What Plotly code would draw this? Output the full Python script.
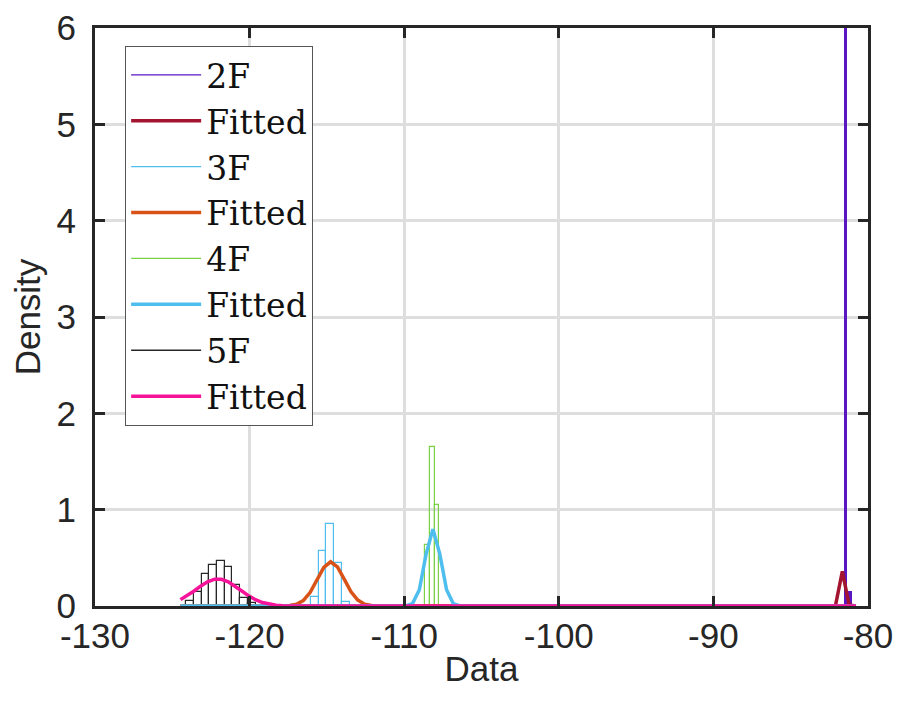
import plotly.graph_objects as go

# ---------------- data ----------------
series_names = ["2F", "3F", "4F", "5F"]

# histogram bins (left edges, bin widths, densities)
h2_left = [-81.50, -81.20]
h2_width = [0.05, 0.08]
h2_dens = [9.0, 0.15]

h3_left = [-116.03, -115.53, -115.03, -114.53, -114.03]
h3_width = [0.5, 0.5, 0.5, 0.5, 0.5]
h3_dens = [0.097, 0.57, 0.85, 0.45, 0.04]

h4_left = [-108.65, -108.34, -108.03]
h4_width = [0.31, 0.31, 0.31]
h4_dens = [0.633, 1.654, 1.049]

h5_left = [-124.11, -123.61, -123.11, -122.61, -122.11, -121.61, -121.11, -120.61, -120.11]
h5_width = [0.5, 0.5, 0.5, 0.5, 0.5, 0.5, 0.5, 0.5, 0.5]
h5_dens = [0.055, 0.15, 0.33, 0.43, 0.465, 0.41, 0.22, 0.08, 0.03]

# fitted curves
f2_x = [-124.47, -82.11, -81.66, -81.22, -80.78]
f2_y = [0, 0, 0.36, 0.01, 0]

f3_x = [-124.47, -118.29, -117.85, -117.41, -116.97, -116.53, -116.09, -115.64, -115.20,
        -114.76, -114.32, -113.88, -113.44, -113.00, -112.56, -112.11, -111.67, -111.23, -80.78]
f3_y = [0, 0, 0.0008, 0.0043, 0.0177, 0.0565, 0.140, 0.272, 0.401,
        0.459, 0.406, 0.278, 0.148, 0.061, 0.019, 0.0046, 0.0008, 0, 0]

f4_x = [-124.47, -110.35, -109.91, -109.47, -109.02, -108.58, -108.14, -107.70, -107.26,
        -106.82, -106.38, -105.94, -80.78]
f4_y = [0, 0, 0.0015, 0.023, 0.169, 0.542, 0.798, 0.542, 0.169, 0.023, 0.0015, 0, 0]

f5_x = [-124.47, -124.03, -123.59, -123.15, -122.72, -122.26, -121.82, -121.38, -120.94,
        -120.50, -120.06, -119.62, -119.17, -118.73, -118.29, -117.85, -117.41, -116.97,
        -116.53, -116.09, -80.78]
f5_y = [0.066, 0.106, 0.156, 0.208, 0.251, 0.278, 0.277, 0.251, 0.207,
        0.155, 0.105, 0.065, 0.036, 0.018, 0.0084, 0.0035, 0.0013, 0.0004,
        0.0001, 0, 0]

x_tickvals = [-130, -120, -110, -100, -90, -80]
x_ticktext = ["-130", "-120", "-110", "-100", "-90", "-80"]
y_tickvals = [0, 1, 2, 3, 4, 5, 6]
y_ticktext = ["0", "1", "2", "3", "4", "5", "6"]

# ---------------- styles ----------------
hist_colors = ["#5B16C4", "#4DBEEE", "#7AD147", "#262626"]
hist_lw = [2.0, 1.2, 1.2, 1.2]
fit_colors = ["#A2142F", "#D95319", "#4DBEEE", "#F5139A"]

hists = [(h2_left, h2_width, h2_dens), (h3_left, h3_width, h3_dens),
         (h4_left, h4_width, h4_dens), (h5_left, h5_width, h5_dens)]
fits = [(f2_x, f2_y), (f3_x, f3_y), (f4_x, f4_y), (f5_x, f5_y)]

fig = go.Figure()

for i, name in enumerate(series_names):
    left, width, dens = hists[i]
    fig.add_trace(go.Bar(
        x=left, y=dens, width=width, offset=0,
        marker=dict(color="rgba(0,0,0,0)", line=dict(color=hist_colors[i], width=hist_lw[i])),
        showlegend=False, hoverinfo="skip"))
    # legend entry for histogram (thin line)
    fig.add_trace(go.Scatter(
        x=[None], y=[None], mode="lines", name=name,
        line=dict(color=hist_colors[i], width=1.3), showlegend=True))
    fx, fy = fits[i]
    fig.add_trace(go.Scatter(
        x=fx, y=fy, mode="lines", name="Fitted",
        line=dict(color=fit_colors[i], width=3.5), showlegend=True))

axis_font = dict(family="Liberation Sans, Arial, sans-serif", size=35, color="#262626")

# page body has an 8px margin; figure is sized/offset to compensate
fig.update_layout(
    width=896, height=705,
    margin=dict(l=87, r=36, t=20, b=107, autoexpand=False),
    paper_bgcolor="white", plot_bgcolor="white",
    barmode="overlay", bargap=0,
    legend=dict(
        x=0.039, y=0.969, xanchor="left", yanchor="top",
        bgcolor="white", bordercolor="#555555", borderwidth=1,
        font=dict(family="DejaVu Serif, serif", size=33, color="#111111"),
        itemwidth=70, tracegroupgap=0,
    ),
    xaxis=dict(
        range=[-130, -80], tickvals=x_tickvals, ticktext=x_ticktext,
        showline=True, linewidth=3, linecolor="#262626", mirror="ticks",
        ticks="inside", ticklen=10, tickwidth=2.5, tickcolor="#262626",
        showgrid=True, gridcolor="#DEDEDE", gridwidth=3, zeroline=False,
        tickfont=axis_font, ticklabelstandoff=-3, automargin=False,
        ticklabeloverflow="allow",
        title=dict(text="Data", font=axis_font, standoff=3),
    ),
    yaxis=dict(
        range=[0, 6], tickvals=y_tickvals, ticktext=y_ticktext,
        showline=True, linewidth=3, linecolor="#262626", mirror="ticks",
        ticks="inside", ticklen=10, tickwidth=2.5, tickcolor="#262626",
        showgrid=True, gridcolor="#DEDEDE", gridwidth=3, zeroline=False,
        tickfont=axis_font, ticklabelstandoff=9, automargin=False,
        ticklabeloverflow="allow",
        title=dict(text="Density", font=axis_font, standoff=6),
    ),
)

fig.write_html("out.html")
